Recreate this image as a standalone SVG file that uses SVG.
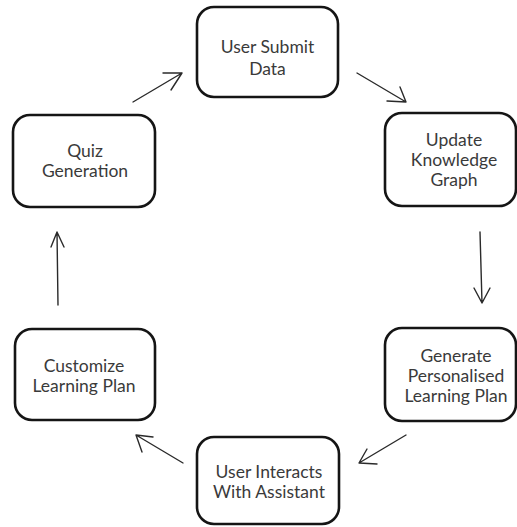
<svg xmlns="http://www.w3.org/2000/svg" width="517" height="527" viewBox="0 0 517 527">
  <style>
    .box { fill: #ffffff; stroke: #151515; stroke-width: 2.6; }
    .label { font-family: Lato, "Liberation Sans", sans-serif; font-size: 17.5px; fill: #3a3a3a; text-anchor: middle; }
    .conn { fill: none; stroke: #2a2a2a; stroke-width: 1.4; stroke-linecap: round; stroke-linejoin: round; }
  </style>
  <rect width="517" height="527" fill="#ffffff"/>

  <g id="node-user-submit">
    <rect class="box" x="197" y="7" width="141" height="90" rx="17"/>
    <text class="label" x="267.5"><tspan x="267.5" y="53">User Submit</tspan><tspan x="267.5" y="75">Data</tspan></text>
  </g>

  <g id="node-update-graph">
    <rect class="box" x="385" y="113" width="131" height="93" rx="17"/>
    <text class="label"><tspan x="454" y="146">Update</tspan><tspan x="454" y="166">Knowledge</tspan><tspan x="454" y="186">Graph</tspan></text>
  </g>

  <g id="node-generate-plan">
    <rect class="box" x="385" y="328" width="131" height="93" rx="17"/>
    <text class="label"><tspan x="456" y="362">Generate</tspan><tspan x="456" y="382">Personalised</tspan><tspan x="456" y="402">Learning Plan</tspan></text>
  </g>

  <g id="node-user-interacts">
    <rect class="box" x="197" y="437" width="142" height="87" rx="17"/>
    <text class="label"><tspan x="269" y="478">User Interacts</tspan><tspan x="269" y="498">With Assistant</tspan></text>
  </g>

  <g id="node-customize-plan">
    <rect class="box" x="15" y="329" width="140" height="91" rx="17"/>
    <text class="label"><tspan x="84" y="372">Customize</tspan><tspan x="84" y="392">Learning Plan</tspan></text>
  </g>

  <g id="node-quiz">
    <rect class="box" x="13" y="115" width="142" height="92" rx="17"/>
    <text class="label"><tspan x="85" y="157">Quiz</tspan><tspan x="85" y="177">Generation</tspan></text>
  </g>

  <!-- cycle connectors, each a shaft plus an open arrowhead -->
  <g id="connectors">
    <path class="conn" d="M133,102 L182,73 M163,73 L182,73 L171,90"/>
    <path class="conn" d="M357,73 L406,102 M387,101 L406,102 L400,87"/>
    <path class="conn" d="M480,232 L482,303 M474,288 L482,303 L490,288"/>
    <path class="conn" d="M406,435 L359,463 M367,449 L359,463 L377,464"/>
    <path class="conn" d="M183,463 L136,435 M153,437 L136,435 L142,452"/>
    <path class="conn" d="M58,305 L57,232 M51,247 L57,232 L64,247"/>
  </g>
</svg>
